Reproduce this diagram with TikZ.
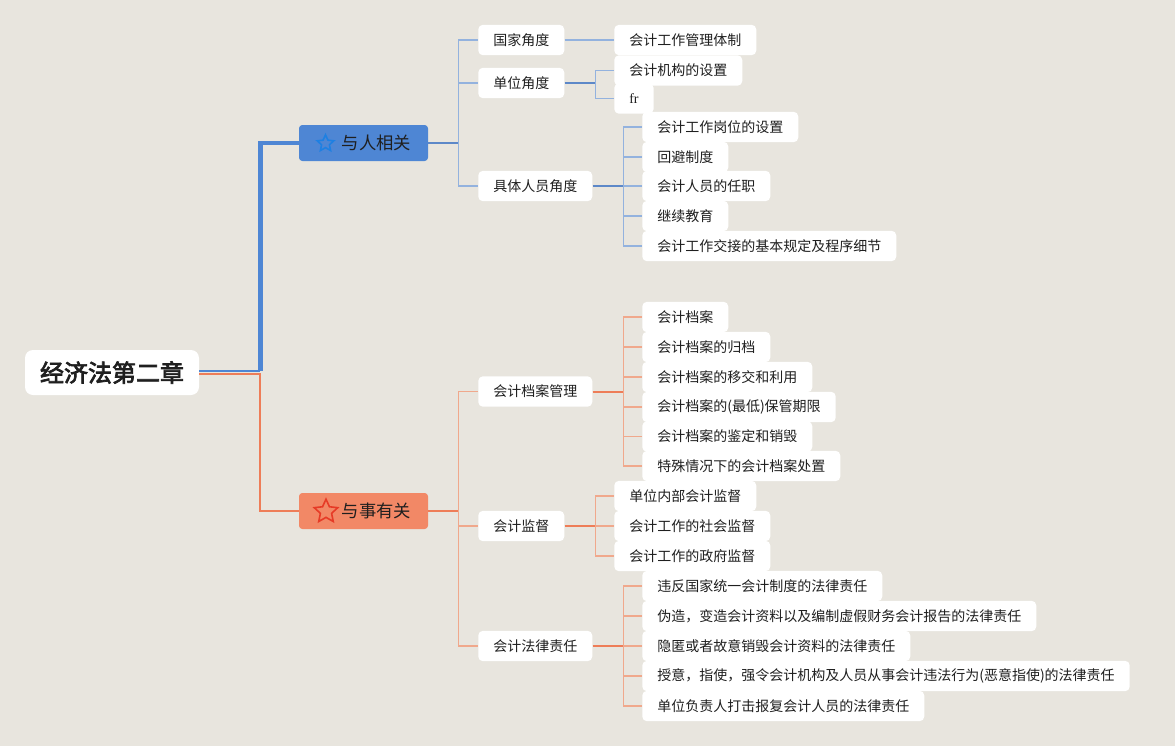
\documentclass[tikz,border=0pt]{standalone}
\usepackage{fontspec}
\setmainfont{Noto Sans CJK SC}[AutoFakeBold=3]
\newfontfamily\latinserif{Liberation Serif}
\usetikzlibrary{shapes.geometric}

\definecolor{paper}{HTML}{E8E5DE}
\definecolor{ink}{HTML}{1F1F1F}
\definecolor{bluebox}{HTML}{4E86D4}
\definecolor{bluestub}{HTML}{5D88C8}
\definecolor{bluebranch}{HTML}{93B2DE}
\definecolor{bluestar}{HTML}{1E80E2}
\definecolor{orangebox}{HTML}{F28866}
\definecolor{orangestub}{HTML}{EE7D58}
\definecolor{orangebranch}{HTML}{F0A88C}
\definecolor{redstar}{HTML}{E63B26}

\tikzset{every node/.style={text=ink}}

\begin{document}
\begin{tikzpicture}[x=0.75pt,y=-0.75pt,
	leaf/.style={fill=white, rounded corners=3.5pt, anchor=west, inner xsep=11.25pt, inner ysep=0pt, minimum height=22.8pt, font=\fontsize{10.5}{12}\selectfont},
	rootbox/.style={fill=white, rounded corners=6pt, inner xsep=11.25pt, inner ysep=0pt, minimum height=33.75pt, font=\fontsize{18}{20}\selectfont\bfseries},
	topbox/.style={rounded corners=2.5pt, inner xsep=12.75pt, inner ysep=0pt, text width=71.25pt, align=right, minimum height=27pt, font=\fontsize{13}{15}\selectfont},
	starmark/.style={star, star points=5, star point ratio=2.1, draw, fill=none, inner sep=0pt, line width=1.2pt},
	bstub/.style={draw=bluestub, line width=1.5pt},
	bbranch/.style={draw=bluebranch, line width=1.1pt},
	ostub/.style={draw=orangestub, line width=1.5pt},
	obranch/.style={draw=orangebranch, line width=1.1pt}]
	\useasboundingbox (0,0) rectangle (1175,746);
	\fill[paper] (0,0) rectangle (1175,746);

	% root and the two main branches
	\node[rootbox] (root) at (112,372.5) {经济法第二章};
	\node[topbox, fill=bluebox] (ren) at (363.5,143) {与人相关};
	\node[starmark, draw=bluestar, minimum size=13pt] (renstar) at (325.5,143.5) {};
	\node[topbox, fill=orangebox] (shi) at (363.5,511) {与事有关};
	\node[starmark, draw=redstar, minimum size=18.5pt] (shistar) at (326,511.5) {};

	\path (root.east) ++(61,0) coordinate (rj);
	\draw[draw=bluebox, line width=1.5pt] ([yshift=0.9pt]root.east) -- ([yshift=0.9pt]rj);
	\draw[draw=bluebox, line width=3.6pt] ([yshift=0.9pt]rj) |- (ren.west);
	\draw[draw=orangestub, line width=1.5pt] ([yshift=-0.9pt]root.east) -- ([yshift=-0.9pt]rj) |- (shi.west);

	% 与人相关
	\node[leaf] (guo) at (478,40) {国家角度};
	\node[leaf] (dan) at (478,83) {单位角度};
	\node[leaf] (ju) at (478,186) {具体人员角度};
	\draw[bstub] (ren.east) -- ++(30,0) coordinate (renj);
	\foreach \n in {guo,dan,ju}
		\draw[bbranch] (renj) |- (\n.west);

	\node[leaf] (tizhi) at (614,40) {会计工作管理体制};
	\draw[bbranch] (guo.east) -- (tizhi.west);

	\node[leaf] (jigou) at (614,70.5) {会计机构的设置};
	\node[leaf, font=\fontsize{10.5}{12}\latinserif] (fr) at (614,98.5) {fr};
	\draw[bstub] (dan.east) -- ++(31,0) coordinate (danj);
	\foreach \n in {jigou,fr}
		\draw[bbranch] (danj) |- (\n.west);

	\node[leaf] (gangwei) at (642,127) {会计工作岗位的设置};
	\node[leaf] (huibi) at (642,157) {回避制度};
	\node[leaf] (renzhi) at (642,186) {会计人员的任职};
	\node[leaf] (jiaoyu) at (642,216) {继续教育};
	\node[leaf] (jiaojie) at (642,246) {会计工作交接的基本规定及程序细节};
	\draw[bstub] (ju.east) -- ++(31,0) coordinate (juj);
	\foreach \n in {gangwei,huibi,renzhi,jiaoyu,jiaojie}
		\draw[bbranch] (juj) |- (\n.west);

	% 与事有关
	\node[leaf] (dangan) at (478,391.5) {会计档案管理};
	\node[leaf] (jiandu) at (478,526) {会计监督};
	\node[leaf] (falv) at (478,646) {会计法律责任};
	\draw[ostub] (shi.east) -- ++(30,0) coordinate (shij);
	\foreach \n in {dangan,jiandu,falv}
		\draw[obranch] (shij) |- (\n.west);

	\node[leaf] (da1) at (642,317) {会计档案};
	\node[leaf] (da2) at (642,347) {会计档案的归档};
	\node[leaf] (da3) at (642,377) {会计档案的移交和利用};
	\node[leaf] (da4) at (642,407) {会计档案的(最低)保管期限};
	\node[leaf] (da5) at (642,436.5) {会计档案的鉴定和销毁};
	\node[leaf] (da6) at (642,466) {特殊情况下的会计档案处置};
	\draw[ostub] (dangan.east) -- ++(31,0) coordinate (danganj);
	\foreach \n in {da1,da2,da3,da4,da5,da6}
		\draw[obranch] (danganj) |- (\n.west);

	\node[leaf] (jd1) at (614,496) {单位内部会计监督};
	\node[leaf] (jd2) at (614,526) {会计工作的社会监督};
	\node[leaf] (jd3) at (614,556) {会计工作的政府监督};
	\draw[ostub] (jiandu.east) -- ++(31,0) coordinate (jianduj);
	\foreach \n in {jd1,jd2,jd3}
		\draw[obranch] (jianduj) |- (\n.west);

	\node[leaf] (fl1) at (642,586) {违反国家统一会计制度的法律责任};
	\node[leaf] (fl2) at (642,616) {伪造，变造会计资料以及编制虚假财务会计报告的法律责任};
	\node[leaf] (fl3) at (642,646) {隐匿或者故意销毁会计资料的法律责任};
	\node[leaf] (fl4) at (642,676) {授意，指使，强令会计机构及人员从事会计违法行为(恶意指使)的法律责任};
	\node[leaf] (fl5) at (642,706) {单位负责人打击报复会计人员的法律责任};
	\draw[ostub] (falv.east) -- ++(31,0) coordinate (falvj);
	\foreach \n in {fl1,fl2,fl3,fl4,fl5}
		\draw[obranch] (falvj) |- (\n.west);
\end{tikzpicture}
\end{document}
